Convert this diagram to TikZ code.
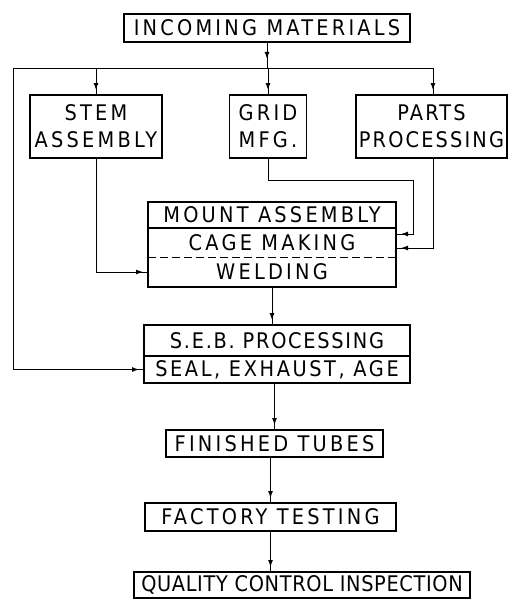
\documentclass[tikz,border=0pt]{standalone}
\usepackage{fontspec}
\setmainfont{DejaVu Sans}[FakeStretch=0.9, LetterSpace=15]
\usepackage{tikz}
\usetikzlibrary{arrows.meta,positioning,decorations.markings}
\tikzset{every picture/.style={line width=1pt}}

\begin{document}
\begin{tikzpicture}[x=1pt, y=-1pt, font=\fontsize{21.5}{27}\selectfont]
    \tikzstyle{box}=[draw, line width=1.2pt, inner sep=0pt, outer sep=0pt, minimum height=28pt, align=center]
    \tikzstyle{cell}=[inner sep=0pt, outer sep=0pt, align=center]
    \tikzstyle{tip}=[postaction={decorate}, decoration={markings, mark=at position -5pt with {\arrow{Latex[length=7pt,width=5pt]}}}]
    \tikzstyle{midtip}=[postaction={decorate}, decoration={markings, mark=at position 0.65 with {\arrow{Latex[length=7pt,width=5pt]}}}]
    \useasboundingbox (0,0) rectangle (508,600);
    % top row
    \node[box, minimum width=286pt] (inc) at (267,28) {INCOMING MATERIALS};
    \node[box, minimum width=132pt, minimum height=63pt] (stem) at (96,126.5) {STEM\\ASSEMBLY};
    \node[box, minimum width=77pt, minimum height=63pt] (grid) at (268,126.5) {GRID\\MFG.};
    \node[box, minimum width=151pt, minimum height=63pt] (parts) at (431.5,126.5) {\addfontfeature{LetterSpace=10}PARTS\\\addfontfeature{LetterSpace=10}PROCESSING};
    % mount assembly
    \node[box, minimum width=248pt, minimum height=26pt, below=44pt of grid, xshift=4pt] (mount) {MOUNT ASSEMBLY};
    \node[cell, minimum width=248pt, minimum height=29pt, below=0pt of mount] (cage) {CAGE MAKING};
    \node[cell, minimum width=248pt, minimum height=30pt, below=0pt of cage] (weld) {WELDING};
    \draw[line width=1.2pt] (cage.north west) rectangle (weld.south east);
    \draw[dash pattern=on 8pt off 4pt] (weld.north west) -- (weld.north east);
    % seb processing
    \node[box, minimum width=266pt, minimum height=31pt, below=38pt of weld, xshift=5pt] (seb) {\addfontfeature{LetterSpace=8}S.E.B. PROCESSING};
    \node[box, minimum width=266pt, minimum height=27pt, below=0pt of seb] (seal) {\addfontfeature{LetterSpace=12}SEAL, EXHAUST, AGE};
    \node[box, minimum width=217pt, minimum height=27pt, below=47pt of seal, xshift=-2.5pt] (fin) {FINISHED TUBES};
    \node[box, minimum width=251pt, below=46pt of fin, xshift=-4pt] (fac) {FACTORY TESTING};
    \node[box, minimum width=336pt, minimum height=26pt, below=41pt of fac, xshift=31.5pt] (qc) {\addfontfeature{LetterSpace=3}QUALITY CONTROL INSPECTION};
    % distribution line
    \coordinate (busL) at (13,68);
    \coordinate (busR) at (433,68);
    \draw[midtip] (inc) -- (inc |- busL);
    \draw (busL) -- (busR);
    \draw[tip] (stem |- busL) -- (stem);
    \draw[tip] (grid |- busL) -- (grid);
    \draw[tip] (busR) -- (busR |- parts.north);
    \draw[tip] (busL) |- (seal.west);
    % into mount assembly
    \coordinate (gturn) at (413,180);
    \draw[tip] (stem) |- (weld.west);
    \draw[tip] (grid) |- (gturn) |- ([yshift=8.5pt]cage.east);
    \draw[tip] (busR |- parts.south) |- ([yshift=-5.5pt]cage.east);
    % main flow
    \draw[tip] (weld) -- (weld |- seb.north);
    \draw[tip] (fin |- seal.south) -- (fin);
    \draw[tip] (fac |- fin.south) -- (fac);
    \draw[tip] (fac) -- (fac |- qc.north);
\end{tikzpicture}
\end{document}
